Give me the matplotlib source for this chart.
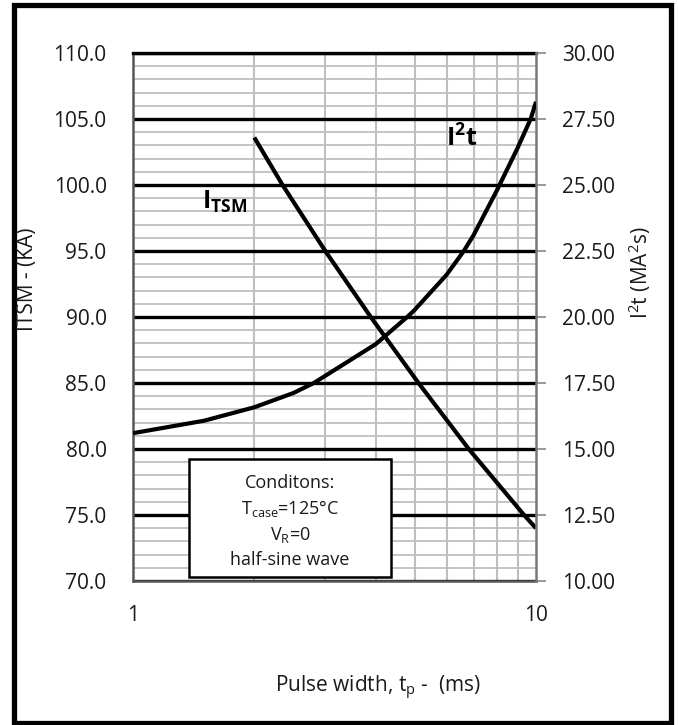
import matplotlib
matplotlib.use("Agg")
import matplotlib.pyplot as plt
from matplotlib.ticker import MultipleLocator, FixedLocator, FixedFormatter, NullFormatter, FormatStrFormatter
from matplotlib.patches import Rectangle

plt.rcParams['font.family'] = ['Open Sans', 'DejaVu Sans']
plt.rcParams['mathtext.fontset'] = 'custom'
plt.rcParams['mathtext.rm'] = 'Open Sans'
plt.rcParams['mathtext.it'] = 'Open Sans'
plt.rcParams['mathtext.bf'] = 'Open Sans:bold'

# (grid crossings + a few pulse widths)
tp_itsm = [2, 2.35, 3.0, 3.89, 5.11, 6.81, 9.34, 10]
itsm = [103.6, 100.0, 95.0, 90.0, 85.0, 80.0, 75.0, 74.0]

tp_i2t = [1, 1.5, 2, 2.5, 2.81, 4, 4.79, 5, 6, 6.62, 7, 8, 9, 9.7, 10]
i2t = [15.6, 16.07, 16.58, 17.12, 17.5, 18.97, 20.0, 20.27, 21.6, 22.5, 23.1,
       24.8, 26.4, 27.5, 28.15]

x_ticks = [1, 10]
x_ticklabels = ['1', '10']
cond_lines = ['Conditons:', r'T$_{\mathrm{case}}$=125°C', r'V$_{\mathrm{R}}$=0', 'half-sine wave']

W, H = 678, 725
fig = plt.figure(figsize=(W / 100, H / 100), dpi=100)
ax = fig.add_axes([133 / W, 1 - 581 / H, 403 / W, 528 / H])
ax2 = ax.twinx()

gray = '#BFBFBF'
txtc = '#1a1a1a'
fs = 15

ax.set_xscale('log')
ax.set_xlim(1, 10)
ax.set_ylim(70, 110)
ax.xaxis.set_major_locator(FixedLocator(x_ticks))
ax.xaxis.set_major_formatter(FixedFormatter(x_ticklabels))
ax.xaxis.set_minor_locator(FixedLocator(range(2, 10)))
ax.xaxis.set_minor_formatter(NullFormatter())
ax.yaxis.set_major_locator(MultipleLocator(5))
ax.yaxis.set_minor_locator(MultipleLocator(1))
ax.yaxis.set_major_formatter(FormatStrFormatter('%.1f'))

ax.yaxis.grid(True, which='minor', color=gray, lw=1.3, zorder=0)
ax.xaxis.grid(True, which='minor', color=gray, lw=1.5, zorder=0)
ax.yaxis.grid(True, which='major', color='black', lw=2.4, zorder=1)
ax.set_axisbelow(True)

ax.tick_params(axis='both', which='both', length=0)
ax.tick_params(axis='y', labelsize=fs, pad=19, colors=txtc)
ax.tick_params(axis='x', labelsize=fs, pad=17, colors=txtc)

for s in ['left', 'bottom']:
    ax.spines[s].set_color('#555555')
    ax.spines[s].set_linewidth(1.8)
ax.spines['top'].set_color('black')
ax.spines['top'].set_linewidth(2.4)
ax.spines['right'].set_visible(False)

ax.plot(tp_itsm, itsm, color='black', lw=3.0, solid_capstyle='butt',
        solid_joinstyle='round', zorder=5)

ax2.set_ylim(10, 30)
ax2.yaxis.set_major_locator(MultipleLocator(2.5))
ax2.yaxis.set_major_formatter(FormatStrFormatter('%.2f'))
ax2.tick_params(axis='y', length=7, width=1.2, color='#888888', labelsize=fs, pad=12, labelcolor=txtc)
for s in ['left', 'bottom', 'top']:
    ax2.spines[s].set_visible(False)
ax2.spines['right'].set_color('#777777')
ax2.spines['right'].set_linewidth(1.8)
ax2.plot(tp_i2t, i2t, color='black', lw=3.0, solid_capstyle='butt',
         solid_joinstyle='round', zorder=5)

# curve labels
ax.text(1.486, 98.2, r'$\mathbf{I}_{\mathbf{TSM}}$', fontsize=18, ha='left', va='baseline', zorder=6)
ax.text(5.97, 102.9, r'$\mathbf{I}^{\mathbf{2}}\mathbf{t}$', fontsize=18, ha='left', va='baseline', zorder=6)

# conditions box
ax2.add_patch(Rectangle((0.139, 0.008), 0.501, 0.223, transform=ax2.transAxes,
                        facecolor='white', edgecolor='black', lw=1.8, zorder=8))
for txt, yy in zip(cond_lines, [0.186, 0.138, 0.087, 0.040]):
    ax2.text(0.39, yy, txt, transform=ax2.transAxes, ha='center', va='center',
             fontsize=13, color=txtc, zorder=9)

fig.text(27 / W, 1 - 279 / H, 'ITSM - (KA)', rotation=90, ha='center', va='center',
         fontsize=fs, color=txtc)
fig.text(640 / W, 1 - 273 / H, r'I$^2$t (MA$^2$s)', rotation=90, ha='center', va='center',
         fontsize=fs, color=txtc)
fig.text(378 / W, 1 - 688 / H, r'Pulse width, t$_{\mathrm{p}}$ -  (ms)', ha='center', va='center',
         fontsize=fs, color=txtc)

# outer frame
fig.patches.append(Rectangle((13.5 / W, 2 / H), 657 / W, 718 / H, transform=fig.transFigure,
                             fill=False, edgecolor='black', lw=3.8))

fig.savefig('out.png', dpi=100)
